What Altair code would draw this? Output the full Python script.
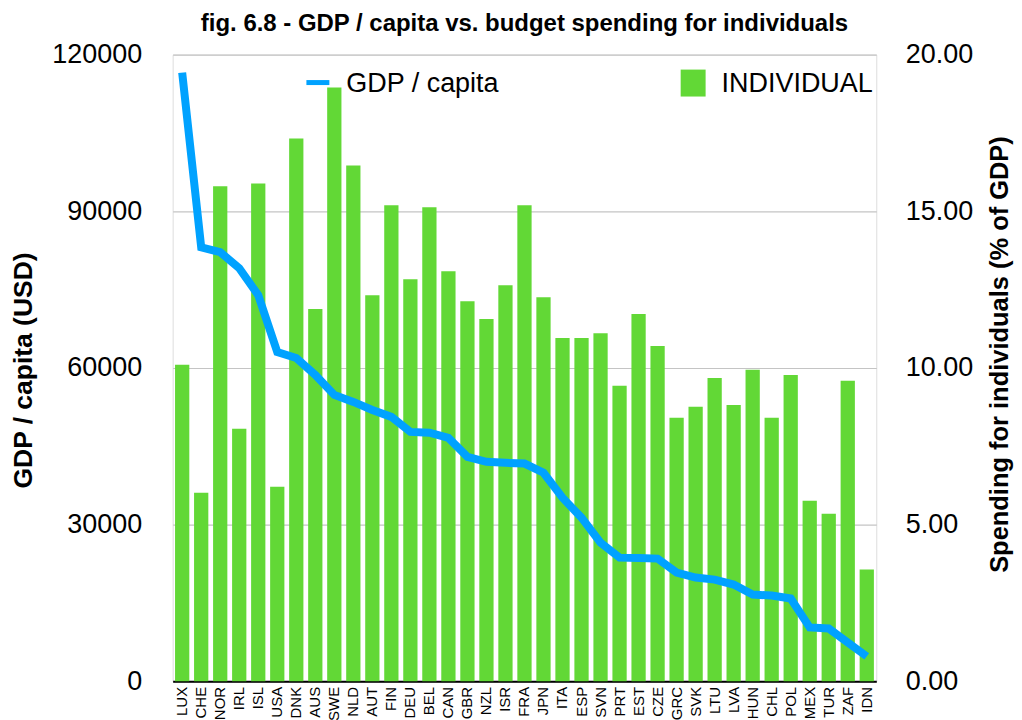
import altair as alt
import pandas as pd

countries = ["LUX", "CHE", "NOR", "IRL", "ISL", "USA", "DNK", "AUS", "SWE", "NLD",
             "AUT", "FIN", "DEU", "BEL", "CAN", "GBR", "NZL", "ISR", "FRA", "JPN",
             "ITA", "ESP", "SVN", "PRT", "EST", "CZE", "GRC", "SVK", "LTU", "LVA",
             "HUN", "CHL", "POL", "MEX", "TUR", "ZAF", "IDN"]

individual = [10.10, 6.02, 15.80, 8.06, 15.89, 6.21, 17.32, 11.88, 18.95, 16.46,
              12.32, 15.19, 12.83, 15.13, 13.09, 12.13, 11.56, 12.64, 15.19, 12.26,
              10.96, 10.96, 11.11, 9.43, 11.72, 10.70, 8.41, 8.76, 9.68, 8.82,
              9.94, 8.41, 9.78, 5.76, 5.35, 9.59, 3.57]

gdp = [116560, 83120, 82170, 79110, 73950, 63060, 61910, 58660, 54840, 53500,
       51970, 50640, 47770, 47600, 46620, 42990, 42040, 41850, 41700, 39940,
       35160, 31340, 26560, 23690, 23600, 23500, 20830, 19870, 19490, 18530,
       16620, 16430, 15860, 10320, 10130, 7450, 4780]

df = pd.DataFrame({"country": countries, "individual": individual, "gdp": gdp})
one = pd.DataFrame({"k": [0]})

FONT = "Liberation Sans"
GREEN = "#62D836"
BLUE = "#00A2FF"

xenc = alt.X("country:N", sort=countries,
             scale=alt.Scale(paddingInner=0.25, paddingOuter=0.125),
             axis=alt.Axis(title=None, labelAngle=270, labelAlign="right", labelBaseline="middle",
                           labelFontSize=15, labelColor="black", labelPadding=5, labelFont=FONT,
                           ticks=False, domainColor="black", domainWidth=2, grid=False))

bars = alt.Chart(df).mark_bar(color=GREEN).encode(
    x=xenc,
    y=alt.Y("individual:Q", scale=alt.Scale(domain=[0, 20], nice=False),
            axis=alt.Axis(orient="right", values=[0, 5, 10, 15, 20], format=".2f",
                          title="Spending for individuals (% of GDP)", titleFontSize=25.5,
                          titleFont=FONT, titleFontWeight="bold", titleColor="black",
                          titleAngle=270, titleX=123, titleY=300, titleBaseline="middle",
                          titleAlign="center",
                          labelFontSize=27, labelFont=FONT, labelColor="black", labelPadding=29,
                          ticks=False, domain=False, grid=False)),
)

line = alt.Chart(df).mark_line(color=BLUE, strokeWidth=8).encode(
    x=alt.X("country:N", sort=countries),
    y=alt.Y("gdp:Q", scale=alt.Scale(domain=[0, 120000], nice=False),
            axis=alt.Axis(orient="left", values=[0, 30000, 60000, 90000, 120000], format="d",
                          title="GDP / capita (USD)", titleFontSize=26.5, titleFont=FONT,
                          titleFontWeight="bold", titleColor="black",
                          titleAngle=270, titleX=-149, titleY=316, titleBaseline="middle",
                          titleAlign="center",
                          labelFontSize=27, labelFont=FONT, labelColor="black", labelPadding=31,
                          ticks=False, domain=False, grid=True, gridColor="#c4c4c4", gridWidth=1.2)),
)

leg_line = alt.Chart(one).mark_rule(color=BLUE, strokeWidth=5).encode(
    x=alt.value(134), x2=alt.value(157), y=alt.value(28))
leg_line_text = alt.Chart(one).mark_text(text="GDP / capita", align="left", baseline="middle",
                                         fontSize=27, font=FONT, color="black").encode(
    x=alt.value(174), y=alt.value(29))
leg_sq = alt.Chart(one).mark_rect(color=GREEN).encode(
    x=alt.value(509), x2=alt.value(534), y=alt.value(15), y2=alt.value(42))
leg_sq_text = alt.Chart(one).mark_text(text="INDIVIDUAL", align="left", baseline="middle",
                                       fontSize=27, font=FONT, color="black").encode(
    x=alt.value(550), y=alt.value(29))

chart = alt.layer(bars, line, leg_line, leg_line_text, leg_sq, leg_sq_text).resolve_scale(
    y="independent"
).properties(
    width=705, height=628,
    title=alt.TitleParams("fig. 6.8 - GDP / capita vs. budget spending for individuals",
                          fontSize=24, font=FONT, fontWeight="bold", color="black",
                          anchor="middle", frame="group", offset=5),
    autosize=alt.AutoSizeParams(type="none"),
    padding={"left": 165, "top": 46, "right": 138, "bottom": 40},
).configure_view(stroke=None).configure(background="white")

chart.save("out.html", embed_options={"renderer": "svg", "actions": False})
